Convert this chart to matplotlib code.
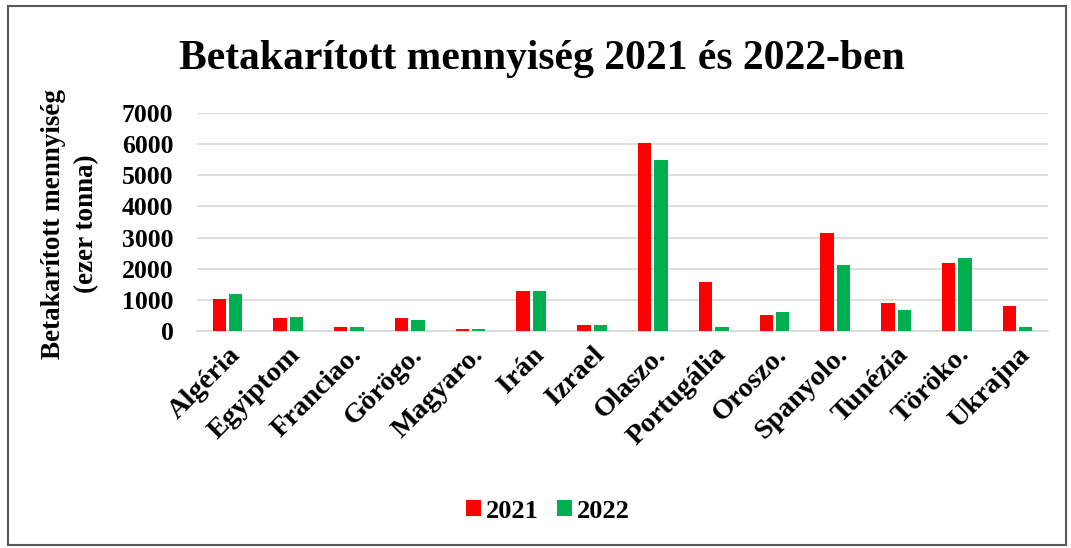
import matplotlib
matplotlib.use("Agg")
import matplotlib.pyplot as plt
import numpy as np
from matplotlib.patches import Rectangle

countries = ["Algéria", "Egyiptom", "Franciao.", "Görögo.", "Magyaro.", "Irán",
             "Izrael", "Olaszo.", "Portugália", "Oroszo.", "Spanyolo.", "Tunézia",
             "Töröko.", "Ukrajna"]
harvest_2021 = [1030, 410, 130, 410, 75, 1300, 185, 6030, 1560, 510, 3160, 910, 2170, 790]
harvest_2022 = [1200, 465, 130, 360, 75, 1300, 185, 5480, 130, 620, 2120, 670, 2330, 130]
yticks = [0, 1000, 2000, 3000, 4000, 5000, 6000, 7000]
series_labels = ["2021", "2022"]
colors = ["#FF0000", "#00B050"]

W, H = 1071, 548
fig = plt.figure(figsize=(W / 100, H / 100), dpi=100)
serif = ["Liberation Serif", "DejaVu Serif"]

# chart area border
fig.add_artist(Rectangle((8 / W, 1 - 545 / H), (1066 - 8) / W, (545 - 6) / H,
                         transform=fig.transFigure, fill=False,
                         edgecolor="#595959", linewidth=1.5))

ax = fig.add_axes([197 / W, 1 - 331 / H, (1048 - 197) / W, (331 - 113) / H])
x = np.arange(len(countries))
bw = 0.22
off = 0.135
ax.bar(x - off, harvest_2021, bw, color=colors[0], label=series_labels[0], zorder=3)
ax.bar(x + off, harvest_2022, bw, color=colors[1], label=series_labels[1], zorder=3)

ax.set_xlim(-0.5, len(countries) - 0.5)
ax.set_ylim(0, 7000)
ax.set_yticks(yticks)
ax.set_yticklabels([str(v) for v in yticks], fontfamily=serif, fontweight="bold",
                   fontsize=18.5)
ax.set_xticks(x)
ax.set_xticklabels(countries, rotation=45, ha="right", rotation_mode="anchor",
                   fontfamily=serif, fontweight="bold", fontsize=20.5)
ax.tick_params(axis="both", length=0)
ax.tick_params(axis="y", pad=17)
ax.tick_params(axis="x", pad=8)
ax.grid(axis="y", color="#D9D9D9", linewidth=1.2, zorder=0)
ax.set_axisbelow(True)
for side in ["top", "right", "left"]:
    ax.spines[side].set_visible(False)
ax.spines["bottom"].set_color("#D9D9D9")
ax.spines["bottom"].set_linewidth(1.2)

fig.text(542 / W, 1 - 59 / H, "Betakarított mennyiség 2021 és 2022-ben",
         ha="center", va="center", fontfamily=serif, fontweight="bold", fontsize=30)
fig.text(70 / W, 1 - 224 / H, "Betakarított mennyiség\n(ezer tonna)",
         ha="center", va="center", rotation=90, multialignment="center",
         fontfamily=serif, fontweight="bold", fontsize=19.5, linespacing=1.45)

fig.legend(loc="center", bbox_to_anchor=(548 / W, 1 - 511 / H), ncol=2, frameon=False,
           prop={"family": serif, "weight": "bold", "size": 19},
           handlelength=0.55, handleheight=0.55, handletextpad=0.2, columnspacing=0.7)

fig.savefig("out.png", dpi=100)
